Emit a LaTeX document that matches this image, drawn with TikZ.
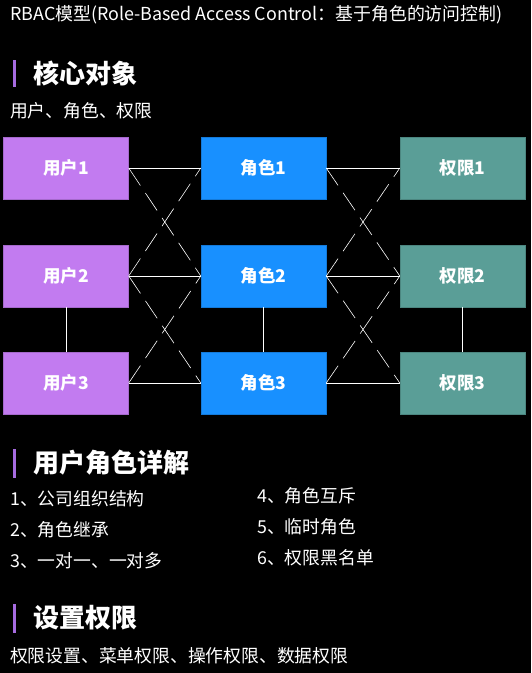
\documentclass[tikz,border=0pt]{standalone}
\usepackage{fontspec}
\setmainfont{Noto Sans CJK SC}
\definecolor{userc}{HTML}{C27BF0}
\definecolor{rolec}{HTML}{1890FF}
\definecolor{permc}{HTML}{5A9E97}
\definecolor{barc}{HTML}{A66BE0}
\tikzset{
  box/.style={draw=#1!85!black, fill=#1, minimum width=125pt, minimum height=62pt, inner sep=0pt,
    text=white, font=\fontsize{17.5}{20}\selectfont\bfseries},
  link/.style={draw=white, line width=0.8pt},
  dlink/.style={draw=white, line width=0.6pt, dash pattern=on 21pt off 9pt},
  txt/.style={anchor=west, inner sep=0pt, text=white, font=\fontsize{17.8}{20}\selectfont},
  head/.style={anchor=west, inner sep=0pt, text=white, font=\fontsize{26}{29}\selectfont\bfseries},
  hbar/.style={fill=barc, draw=none}
}
\begin{document}
\begin{tikzpicture}[x=1pt,y=-1pt]
\fill[black] (0,0) rectangle (531,673);
\useasboundingbox (0,0) rectangle (531,673);

\node[txt, font=\fontsize{17.9}{20}\selectfont] (title) at (10,15) {RBAC模型(Role-Based Access Control：基于角色的访问控制)};

\fill[hbar] (13,60) rectangle (16,87);
\node[head] (h1) at (33,73) {核心对象};
\node[txt] (s1) at (10,111) {用户、角色、权限};

% boxes
\node[box=userc] (u1) at (66,168) {用户1};
\node[box=userc] (u2) at (66,276) {用户2};
\node[box=userc] (u3) at (66,383) {用户3};
\node[box=rolec] (r1) at (263.5,168) {角色1};
\node[box=rolec] (r2) at (263.5,276) {角色2};
\node[box=rolec] (r3) at (263.5,383) {角色3};
\node[box=permc] (p1) at (462.5,168) {权限1};
\node[box=permc] (p2) at (462.5,276) {权限2};
\node[box=permc] (p3) at (462.5,383) {权限3};

% horizontal links
\draw[link] (u1.east) -- (r1.west);
\draw[link] (u2.east) -- (r2.west);
\draw[link] (u3.east) -- (r3.west);
\draw[link] (r1.east) -- (p1.west);
\draw[link] (r2.east) -- (p2.west);
\draw[link] (r3.east) -- (p3.west);

% diagonal dashed links
\draw[dlink] (u1.east) -- (r2.west);
\draw[dlink] (u2.east) -- (r1.west);
\draw[dlink] (u2.east) -- (r3.west);
\draw[dlink] (u3.east) -- (r2.west);
\draw[dlink] (r1.east) -- (p2.west);
\draw[dlink] (r2.east) -- (p1.west);
\draw[dlink] (r2.east) -- (p3.west);
\draw[dlink] (r3.east) -- (p2.west);

% vertical links
\draw[link] (u2.south) -- (u3.north);
\draw[link] (r2.south) -- (r3.north);
\draw[link] (p2.south) -- (p3.north);

\fill[hbar] (13,449) rectangle (16,478);
\node[head] (h2) at (33,463) {用户角色详解};
\node[txt] (i1) at (10,499) {1、公司组织结构};
\node[txt] (i2) at (10,530) {2、角色继承};
\node[txt] (i3) at (10,561) {3、一对一、一对多};
\node[txt] (i4) at (257,496) {4、角色互斥};
\node[txt] (i5) at (257,527) {5、临时角色};
\node[txt] (i6) at (257,558) {6、权限黑名单};

\fill[hbar] (13,604) rectangle (16,633);
\node[head] (h3) at (33,618) {设置权限};
\node[txt] (s3) at (10,656) {权限设置、菜单权限、操作权限、数据权限};
\end{tikzpicture}
\end{document}
